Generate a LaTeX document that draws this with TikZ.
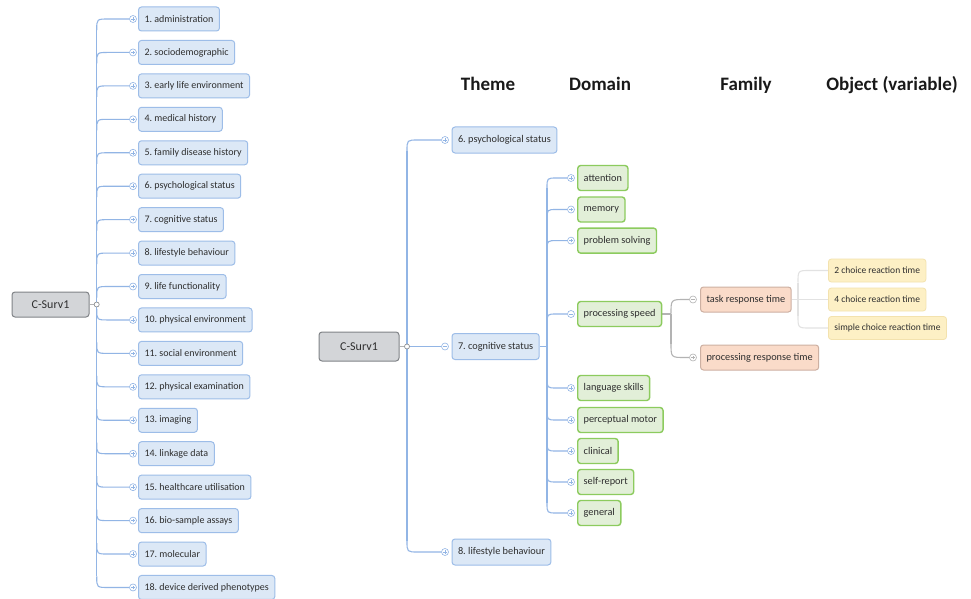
\documentclass[tikz,border=0pt]{standalone}
\usepackage{fontspec}
\setmainfont{Carlito}
\usetikzlibrary{backgrounds}
\frenchspacing
\definecolor{txtc}{HTML}{2E2E2E}
\definecolor{blueL}{HTML}{92B5E5}
\definecolor{blueF}{HTML}{DCE8F6}
\definecolor{blueB}{HTML}{9DBDE8}
\definecolor{greenF}{HTML}{E2EFD8}
\definecolor{greenB}{HTML}{8CCB5E}
\definecolor{salF}{HTML}{FADBC9}
\definecolor{salB}{HTML}{CDB0A2}
\definecolor{yelF}{HTML}{FDF0C5}
\definecolor{yelB}{HTML}{F3E2AE}
\definecolor{rootF}{HTML}{D3D5D8}
\definecolor{rootB}{HTML}{808387}
\definecolor{grayL}{HTML}{B3B3B3}
\definecolor{lightL}{HTML}{E2E2E2}
\tikzset{
  boxbase/.style={rounded corners=3pt, anchor=west, text=txtc, inner xsep=6pt, inner ysep=0pt},
  lbox/.style={boxbase, draw=blueB, fill=blueF, line width=1pt, minimum height=24pt, font=\fontsize{10}{12}\selectfont},
  tbox/.style={boxbase, draw=blueB, fill=blueF, line width=1pt, minimum height=26pt, font=\fontsize{10.3}{12}\selectfont},
  dbox/.style={boxbase, draw=greenB, fill=greenF, line width=1.4pt, minimum height=25pt, font=\fontsize{10.3}{12}\selectfont},
  fbox/.style={boxbase, draw=salB, fill=salF, line width=1pt, minimum height=25pt, font=\fontsize{10.3}{12}\selectfont},
  obox/.style={boxbase, draw=yelB, fill=yelF, line width=0.8pt, minimum height=23pt, font=\fontsize{9.5}{11}\selectfont},
  rootbox/.style={rounded corners=3pt, draw=rootB, fill=rootF, line width=1pt, text=txtc, font=\fontsize{12}{14}\selectfont},
  circ/.style={circle, draw=#1, fill=white, minimum size=7pt, inner sep=0pt, line width=0.6pt,
    path picture={\draw[#1, line width=0.5pt] ([xshift=-1.8pt]path picture bounding box.center) -- ([xshift=1.8pt]path picture bounding box.center);}},
  vbar/.style={draw=#1, line width=0.5pt},
  dot/.style={circle, draw=rootB, fill=white, minimum size=5pt, inner sep=0pt, line width=0.6pt},
  bline/.style={draw=blueL, line width=1.1pt},
  gline/.style={draw=grayL, line width=1.1pt},
  lline/.style={draw=lightL, line width=1.1pt},
  head/.style={font=\bfseries\fontsize{19}{22}\selectfont, text=black!90}
}
\begin{document}
\begin{tikzpicture}[x=1pt,y=-1pt]
\begin{pgfonlayer}{background}
\fill[white] (0,0) rectangle (971,599);
\end{pgfonlayer}
\useasboundingbox (0,0) rectangle (971,599);

% ---------------- left diagram ----------------
\node[rootbox, minimum width=77pt, minimum height=25pt] (R) at (50.5,304.5) {C-Surv1};
\node[dot] (dR) at (96.7,304.5) {};
\begin{pgfonlayer}{background}
\draw[gline] (R) -- (dR);
\end{pgfonlayer}
\foreach \t [count=\n] in {1. administration,2. sociodemographic,3. early life environment,4. medical history,5. family disease history,6. psychological status,7. cognitive status,8. lifestyle behaviour,9. life functionality,10. physical environment,11. social environment,12. physical examination,13. imaging,14. linkage data,15. healthcare utilisation,16. bio-sample assays,17. molecular,18. device derived phenotypes}{
  \pgfmathsetmacro{\yy}{19+33.44*(\n-1)}
  \pgfmathsetmacro{\ys}{\yy<304.5 ? \yy+11 : \yy-11}
  \node[lbox] (L\n) at (138,\yy) {\t};
  \node[circ=blueL] (cL\n) at (133,\yy) {};
  \draw[vbar=blueL] ([yshift=-1.8pt]cL\n.center) -- ([yshift=1.8pt]cL\n.center);
  \coordinate (tL\n) at (96.7,\ys);
  \coordinate (kL\n) at (108.7,\yy);
  \begin{pgfonlayer}{background}
  \draw[bline] (tL\n) .. controls (96.7,\yy) .. (kL\n) -- (cL\n);
  \end{pgfonlayer}
}
\begin{pgfonlayer}{background}
\draw[bline] (tL1) -- (tL18);
\end{pgfonlayer}

% ---------------- headings ----------------
\node[head] (h1) at (488,84) {Theme};
\node[head] (h2) at (600,84) {Domain};
\node[head] (h3) at (746,85) {Family};
\node[head] (h4) at (892,85) {Object (variable)};

% ---------------- right diagram ----------------
\node[rootbox, minimum width=80pt, minimum height=29pt] (R2) at (359,346.5) {C-Surv1};
\node[dot] (dR2) at (407,346.5) {};
\node[tbox] (T6) at (451.5,140) {6. psychological status};
\node[tbox] (T7) at (451.5,346.5) {7. cognitive status};
\node[tbox] (T8) at (451.5,552) {8. lifestyle behaviour};
\node[circ=blueL] (cT6) at (445,140) {};
\node[circ=blueL] (cT7) at (445,346.5) {};
\node[circ=blueL] (cT8) at (445,552) {};
\draw[vbar=blueL] ([yshift=-1.8pt]cT6.center) -- ([yshift=1.8pt]cT6.center);
\draw[vbar=blueL] ([yshift=-1.8pt]cT8.center) -- ([yshift=1.8pt]cT8.center);
\coordinate (tT6) at (407,151);
\coordinate (kT6) at (418,140);
\coordinate (tT8) at (407,541);
\coordinate (kT8) at (418,552);
\begin{pgfonlayer}{background}
\draw[gline] (R2) -- (dR2);
\draw[bline] (tT6) -- (tT8);
\draw[bline] (tT6) .. controls (407,140) .. (kT6) -- (cT6);
\draw[bline] (dR2) -- (cT7);
\draw[bline] (tT8) .. controls (407,552) .. (kT8) -- (cT8);
\end{pgfonlayer}

% domains
\coordinate (dJ) at (547,346.5);
\foreach \t/\yy/\p [count=\n] in {attention/178/1,memory/209.5/1,problem solving/240.6/1,processing speed/314/0,language skills/388/1,perceptual motor/420/1,clinical/451/1,self-report/482/1,general/513/1}{
  \pgfmathsetmacro{\ys}{\yy<346.5 ? \yy+10 : \yy-10}
  \node[dbox] (D\n) at (577,\yy) {\t};
  \node[circ=blueL] (cD\n) at (571,\yy) {};
  \ifnum\p=1
    \draw[vbar=blueL] ([yshift=-1.8pt]cD\n.center) -- ([yshift=1.8pt]cD\n.center);
  \fi
  \coordinate (tD\n) at (547,\ys);
  \coordinate (kD\n) at (557,\yy);
  \begin{pgfonlayer}{background}
  \draw[bline] (tD\n) .. controls (547,\yy) .. (kD\n) -- (cD\n);
  \end{pgfonlayer}
}
\begin{pgfonlayer}{background}
\draw[bline] (T7.east) -- (dJ);
\draw[bline] (tD1) -- (tD9);
\end{pgfonlayer}

% families
\node[fbox] (F1) at (700,299.5) {task response time};
\node[fbox] (F2) at (700,357.5) {processing response time};
\node[circ=grayL] (cF1) at (693,299.5) {};
\node[circ=grayL] (cF2) at (693,357.5) {};
\draw[vbar=grayL] ([yshift=-1.8pt]cF2.center) -- ([yshift=1.8pt]cF2.center);
\coordinate (fJ) at (671,314);
\coordinate (tF1) at (671,313.5);
\coordinate (kF1) at (685,299.5);
\coordinate (tF2) at (671,343.5);
\coordinate (kF2) at (685,357.5);
\begin{pgfonlayer}{background}
\draw[gline] (D4.east) -- (fJ);
\draw[gline] (tF1) -- (tF2);
\draw[gline] (tF1) .. controls (671,299.5) .. (kF1) -- (cF1);
\draw[gline] (tF2) .. controls (671,357.5) .. (kF2) -- (cF2);
\end{pgfonlayer}

% objects
\node[obox] (O1) at (828,270.5) {2 choice reaction time};
\node[obox] (O2) at (828,299.5) {4 choice reaction time};
\node[obox] (O3) at (828,328) {simple choice reaction time};
\coordinate (oJ) at (798,299.5);
\coordinate (tO1) at (798,282.5);
\coordinate (kO1) at (810,270.5);
\coordinate (tO3) at (798,316);
\coordinate (kO3) at (810,328);
\begin{pgfonlayer}{background}
\draw[lline] (F1.east) -- (oJ) -- (O2.west);
\draw[lline] (tO1) -- (tO3);
\draw[lline] (tO1) .. controls (798,270.5) .. (kO1) -- (O1.west);
\draw[lline] (tO3) .. controls (798,328) .. (kO3) -- (O3.west);
\end{pgfonlayer}
\end{tikzpicture}
\end{document}
